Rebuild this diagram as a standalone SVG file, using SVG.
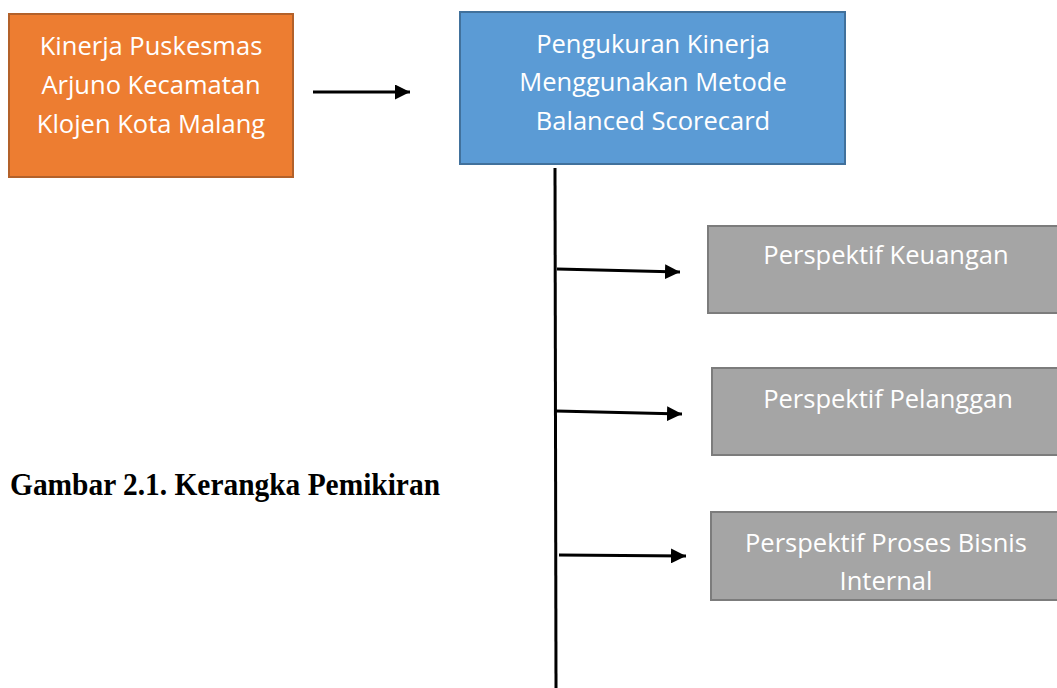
<svg xmlns="http://www.w3.org/2000/svg" width="1057" height="688" viewBox="0 0 1057 688">
<defs>
<style>
.t{font-family:"Open Sans","Noto Sans",sans-serif;font-size:25.5px;fill:#fff;text-anchor:middle}
.g{fill:#A5A5A5;stroke:#7C7C7C;stroke-width:2}
.c{stroke:#000;stroke-width:3;fill:none}
.cap{font-family:"Liberation Serif",serif;font-weight:bold;font-size:31px;fill:#000}
</style>
<marker id="ah" viewBox="0 0 10 10" refX="10" refY="5" markerWidth="5" markerHeight="5" markerUnits="strokeWidth" orient="auto">
<path d="M0,0 L10,5 L0,10 z" fill="#000"/>
</marker>
</defs>
<rect width="1057" height="688" fill="#fff"/>
<g id="node-kinerja">
<rect x="9" y="14" width="284" height="163" fill="#ED7D31" stroke="#B3612A" stroke-width="2"/>
<text class="t" x="151" y="55">Kinerja Puskesmas</text>
<text class="t" x="151" y="94">Arjuno Kecamatan</text>
<text class="t" x="151" y="133">Klojen Kota Malang</text>
</g>
<g id="node-pengukuran">
<rect x="460" y="12" width="385" height="152" fill="#5B9BD5" stroke="#41719C" stroke-width="2"/>
<text class="t" x="653" y="53">Pengukuran Kinerja</text>
<text class="t" x="653" y="91">Menggunakan Metode</text>
<text class="t" x="653" y="130">Balanced Scorecard</text>
</g>
<g id="node-keuangan">
<rect class="g" x="708" y="226" width="360" height="87"/>
<text class="t" x="886" y="264">Perspektif Keuangan</text>
</g>
<g id="node-pelanggan">
<rect class="g" x="712" y="368" width="360" height="87"/>
<text class="t" x="888" y="408">Perspektif Pelanggan</text>
</g>
<g id="node-proses">
<rect class="g" x="711" y="512" width="360" height="88"/>
<text class="t" x="886" y="552">Perspektif Proses Bisnis</text>
<text class="t" x="886" y="590">Internal</text>
</g>
<g id="connectors">
<line class="c" x1="313" y1="92" x2="410" y2="92" marker-end="url(#ah)"/>
<line class="c" x1="555" y1="168" x2="556" y2="688"/>
<line class="c" x1="557" y1="269" x2="680" y2="272" marker-end="url(#ah)"/>
<line class="c" x1="556" y1="411" x2="682" y2="414" marker-end="url(#ah)"/>
<line class="c" x1="559" y1="555" x2="686" y2="556" marker-end="url(#ah)"/>
</g>
<text class="cap" x="10" y="495" textLength="430" lengthAdjust="spacingAndGlyphs">Gambar 2.1. Kerangka Pemikiran</text>
</svg>
